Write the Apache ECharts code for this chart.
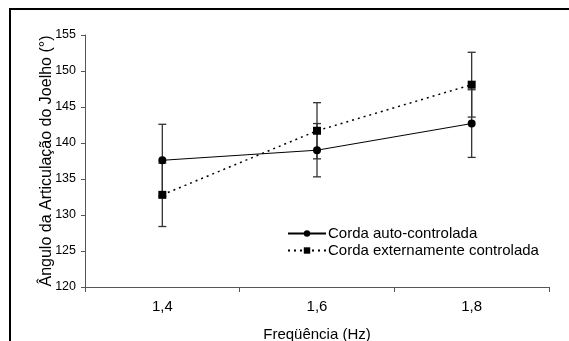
<!DOCTYPE html>
<html><head><meta charset="utf-8">
<script src="https://cdn.jsdelivr.net/npm/echarts@6/dist/echarts.min.js"></script>
<style>html,body{margin:0;padding:0;background:#fff}#c{width:569px;height:341px}</style>
</head><body><div id="c"></div>
<script>
const categories = ['1,4', '1,6', '1,8'];
const autoMean = [137.6, 139.0, 142.7];
const autoErr = [5.0, 3.7, 4.7];
const extMean = [132.8, 141.7, 148.1];
const extErr = [4.4, 3.9, 4.5];
const yTicks = [120, 125, 130, 135, 140, 145, 150, 155];

const chart = echarts.init(document.getElementById('c'));
const FONT = 'Liberation Sans, Arial, sans-serif';

function errSeries(mean, err, z) {
  return {
    type: 'custom', z: z, silent: true,
    data: mean.map((m, i) => [i, m - err[i], m + err[i]]),
    renderItem: function (params, api) {
      const lo = api.coord([api.value(0), api.value(1)]);
      const hi = api.coord([api.value(0), api.value(2)]);
      const hw = 4;
      const st = { stroke: '#333', lineWidth: 1.3 };
      return { type: 'group', children: [
        { type: 'line', shape: { x1: lo[0], y1: lo[1], x2: hi[0], y2: hi[1] }, style: st },
        { type: 'line', shape: { x1: lo[0] - hw, y1: lo[1], x2: lo[0] + hw, y2: lo[1] }, style: st },
        { type: 'line', shape: { x1: hi[0] - hw, y1: hi[1], x2: hi[0] + hw, y2: hi[1] }, style: st }
      ]};
    }
  };
}

chart.setOption({
  animation: false,
  backgroundColor: '#fff',
  graphic: [{ type: 'rect', shape: { x: 10, y: 9, width: 700, height: 500 }, style: { fill: 'none', stroke: '#000', lineWidth: 2 }, silent: true }],
  grid: { left: 85, top: 35, width: 464, height: 252, containLabel: false, outerBoundsMode: 'none' },
  legend: {
    left: 282, top: 221, orient: 'vertical', itemGap: 2, itemWidth: 38, itemHeight: 8,
    textStyle: { fontFamily: FONT, fontSize: 15, color: '#000', padding: [0, 0, 0, -3] },
    data: ['Corda auto-controlada', 'Corda externamente controlada']
  },
  xAxis: {
    type: 'category', data: categories, boundaryGap: true,
    name: 'Freqüência (Hz)', nameLocation: 'middle', nameGap: 40, nameMoveOverlap: false,
    nameTextStyle: { fontFamily: FONT, fontSize: 15, color: '#000' },
    axisLine: { lineStyle: { color: '#555', width: 1 } },
    axisTick: { show: true, inside: false, length: 5, lineStyle: { color: '#555' }, alignWithLabel: false },
    axisLabel: { fontFamily: FONT, fontSize: 15, color: '#000', margin: 12 },
    splitLine: { show: false }
  },
  yAxis: {
    type: 'value', min: 120, max: 155, interval: 5,
    name: 'Ângulo da Articulação do Joelho (°)', nameLocation: 'middle', nameGap: 30, nameMoveOverlap: false,
    nameTextStyle: { fontFamily: FONT, fontSize: 16, color: '#000' },
    axisLine: { show: true, lineStyle: { color: '#555', width: 1 } },
    axisTick: { show: true, length: 4, lineStyle: { color: '#555' } },
    axisLabel: { fontFamily: FONT, fontSize: 12.5, color: '#000', margin: 9,
      formatter: v => yTicks.includes(v) ? String(v) : '' },
    splitLine: { show: false }
  },
  series: [
    errSeries(autoMean, autoErr, 1),
    errSeries(extMean, extErr, 1),
    {
      name: 'Corda auto-controlada', type: 'line', data: autoMean, z: 3,
      symbol: 'circle', symbolSize: 8,
      itemStyle: { color: '#000' },
      lineStyle: { color: '#000', width: 1, type: 'solid' }
    },
    {
      name: 'Corda externamente controlada', type: 'line', data: extMean, z: 3,
      symbol: 'rect', symbolSize: 8,
      itemStyle: { color: '#000' },
      lineStyle: { color: '#000', width: 1.5, type: [2, 4] }
    }
  ]
});
</script></body></html>
